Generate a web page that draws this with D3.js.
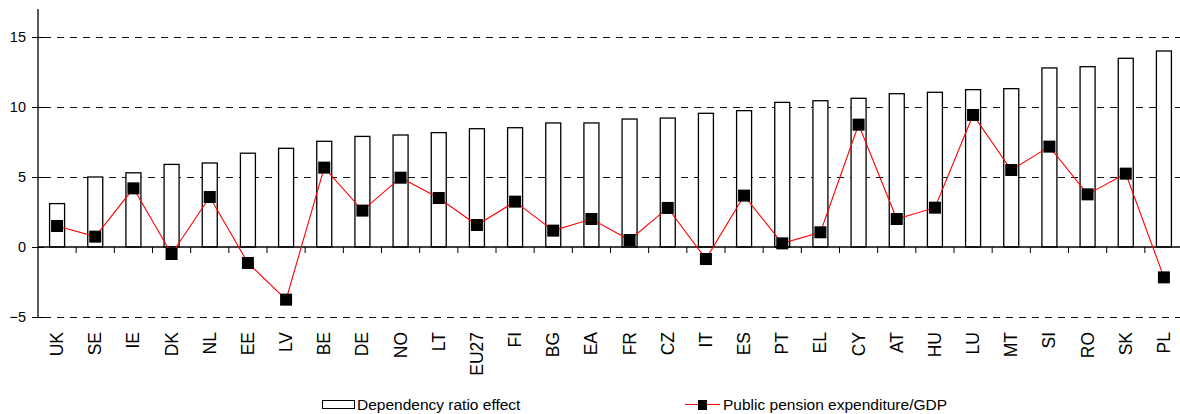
<!DOCTYPE html>
<html><head><meta charset="utf-8">
<script src="https://cdn.jsdelivr.net/npm/d3@7"></script>
<style>body{margin:0;background:#fff}svg{display:block;font-family:Arial,"Liberation Sans",sans-serif}</style>
</head><body><svg id="c" width="1180" height="414"></svg>
<script>
const categories = ["UK","SE","IE","DK","NL","EE","LV","BE","DE","NO","LT","EU27","FI","BG","EA","FR","CZ","IT","ES","PT","EL","CY","AT","HU","LU","MT","SI","RO","SK","PL"];
const dependencyRatioEffect = [3.1,5.0,5.3,5.9,6.0,6.7,7.05,7.55,7.9,8.0,8.17,8.45,8.52,8.86,8.86,9.14,9.21,9.55,9.74,10.33,10.45,10.62,10.95,11.05,11.24,11.31,12.79,12.88,13.48,14.0];
const pensionExpenditure = [1.5,0.74,4.19,-0.5,3.57,-1.14,-3.76,5.67,2.6,4.95,3.5,1.57,3.24,1.17,2.0,0.5,2.79,-0.86,3.67,0.26,1.05,8.74,2.0,2.81,9.43,5.5,7.17,3.76,5.24,-2.17];
const yTicks = [-5,0,5,10,15];
const seriesNames = ["Dependency ratio effect","Public pension expenditure/GDP"];

const svg = d3.select("#c");
const m = {left:38, top:9, bottom:317};
const x = d3.scaleBand().domain(categories).range([38, 1183]).paddingInner(0).paddingOuter(0);
const y = d3.scaleLinear().domain([-5,17]).range([m.bottom, m.top]);
const bw = 15;
const cx = d => x(d) + x.bandwidth()/2;

// gridlines
svg.append("g").selectAll("line").data(yTicks.filter(d=>d!==0)).join("line")
  .attr("x1", m.left+6).attr("x2", 1180).attr("y1", d=>Math.round(y(d))+0.5).attr("y2", d=>Math.round(y(d))+0.5)
  .attr("stroke", "#111").attr("stroke-width", 1).attr("stroke-dasharray", "7,6");

// bars
svg.append("g").selectAll("rect").data(categories).join("rect")
  .attr("x", d=>cx(d) - bw/2)
  .attr("y", (d,i)=>y(dependencyRatioEffect[i]))
  .attr("width", bw)
  .attr("height", (d,i)=>y(0)-y(dependencyRatioEffect[i]))
  .attr("fill", "#fff").attr("stroke", "#000").attr("stroke-width", 1.3);

// y axis
const ya = svg.append("g").attr("transform", `translate(${m.left},0)`)
  .call(d3.axisLeft(y).tickValues(yTicks).tickSize(6).tickPadding(6).tickFormat(d3.format("d")));
ya.select(".domain").attr("d", `M0,${m.top}V${m.bottom}`).attr("stroke","#000").attr("stroke-width",1.3);
ya.selectAll(".tick line").attr("x1", 6).attr("stroke","#000");
ya.selectAll("text").attr("font-size", 14.5).attr("font-family","Arial, Liberation Sans, sans-serif").attr("fill","#000");

// x axis at zero
const xa = svg.append("g").attr("transform", `translate(0,${y(0)})`)
  .call(d3.axisBottom(x).tickSize(0).tickFormat(""));
xa.select(".domain").attr("d", `M${m.left},0H1180`).attr("stroke","#000").attr("stroke-width",1.3);
// tick marks between categories
svg.append("g").selectAll("line").data(categories.slice(1)).join("line")
  .attr("x1", d=>x(d)).attr("x2", d=>x(d)).attr("y1", y(0)).attr("y2", y(0)+6)
  .attr("stroke","#000").attr("stroke-width",1);

// category labels rotated
svg.append("g").selectAll("text").data(categories).join("text")
  .attr("transform", d=>`translate(${cx(d)+6},332) rotate(-90)`)
  .attr("text-anchor","end").attr("font-size",17.5).attr("fill","#000").text(d=>d);

// line
const pts = categories.map((c,i)=>[cx(c), y(pensionExpenditure[i])]);
svg.append("path").attr("d", d3.line()(pts)).attr("fill","none").attr("stroke","#ff0000").attr("stroke-width",1.1);
svg.append("g").selectAll("rect").data(pts).join("rect")
  .attr("x", d=>d[0]-6).attr("y", d=>d[1]-6).attr("width",12).attr("height",12).attr("fill","#000");

// legend
const lg = svg.append("g");
lg.append("rect").attr("x",322.5).attr("y",400.5).attr("width",32).attr("height",8).attr("fill","#fff").attr("stroke","#000").attr("stroke-width",1);
lg.append("text").attr("x",357).attr("y",410).attr("font-size",15.5).text(seriesNames[0]);
lg.append("line").attr("x1",685).attr("x2",720).attr("y1",404.5).attr("y2",404.5).attr("stroke","#ff0000").attr("stroke-width",1.2);
lg.append("rect").attr("x",698).attr("y",400).attr("width",9).attr("height",10).attr("fill","#000");
lg.append("text").attr("x",723).attr("y",410).attr("font-size",15.5).text(seriesNames[1]);
</script></body></html>
